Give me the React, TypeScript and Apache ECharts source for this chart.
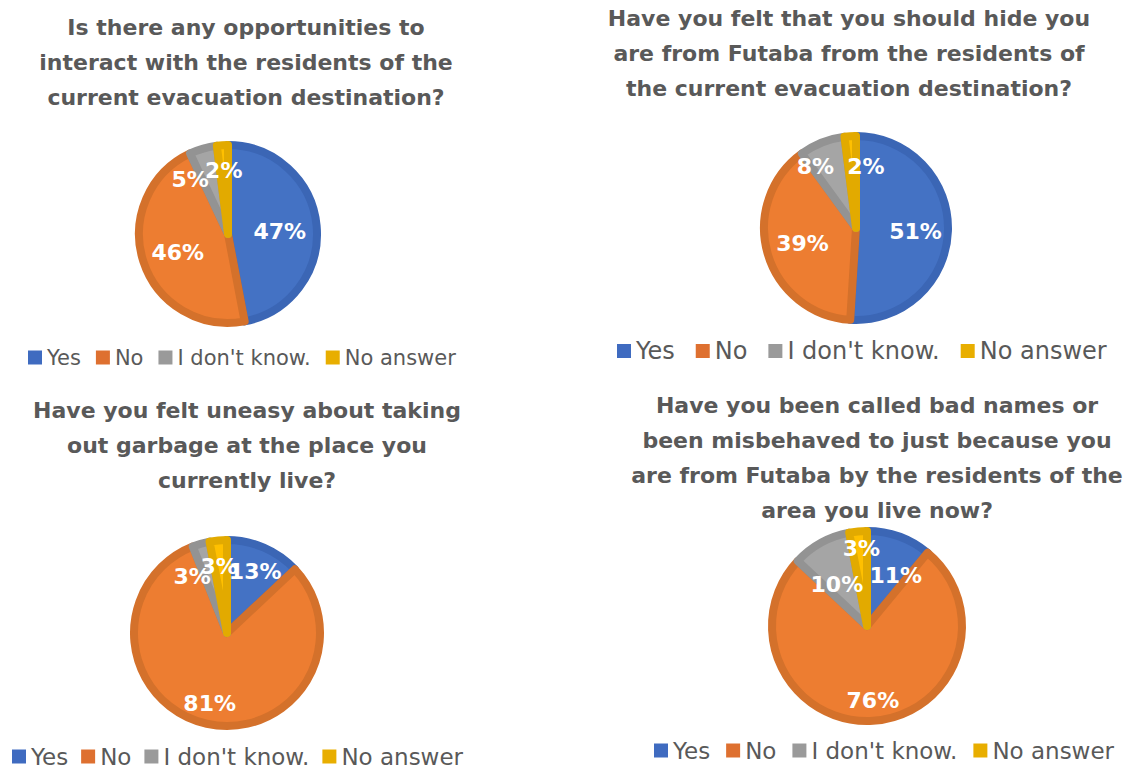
import React, { useEffect, useRef } from "react";
import * as echarts from "echarts";

const categories = ["Yes", "No", "I don't know.", "No answer"];
const q1Values = [47, 46, 5, 2];
const q2Values = [51, 39, 8, 2];
const q3Values = [13, 81, 3, 3];
const q4Values = [11, 76, 10, 3];
const titles = [
  "Is there any opportunities to\ninteract with the residents of the\ncurrent evacuation destination?",
  "Have you felt that you should hide you\nare from Futaba from the residents of\nthe current evacuation destination?",
  "Have you felt uneasy about taking\nout garbage at the place you\ncurrently live?",
  "Have you been called bad names or\nbeen misbehaved to just because you\nare from Futaba by the residents of the\narea you live now?",
];

const fillColors = ["#4472C4", "#ED7D31", "#A5A5A5", "#FFC000"];
const edgeColors = ["#3B66B5", "#D4712B", "#939393", "#E2AA00"];
const legendColors = ["#3F6BC0", "#DE7030", "#9A9A9A", "#E8AE00"];

const FONT = "DejaVu Sans";

const layout = [
  { tx: 246, ty: 9.5, cx: 228, cy: 234, r: 93, lx: 23, ly: 342, lf: 21, gap: 15 },
  { tx: 849, ty: 0.5, cx: 856, cy: 228, r: 96, lx: 612, ly: 334, lf: 24, gap: 21 },
  { tx: 247, ty: 392.5, cx: 227, cy: 633, r: 97, lx: 7, ly: 740, lf: 23, gap: 13 },
  { tx: 877, ty: 387.5, cx: 867, cy: 626, r: 99, lx: 649, ly: 734, lf: 23, gap: 16 },
];

// label distance from centre (fraction of radius) and nudges, per slice
const labelDist = [
  [0.57, 0.57, 0.73, 0.69],
  [0.61, 0.57, 0.78, 0.65],
  [0.7, 0.74, 0.7, 0.72],
  [0.59, 0.75, 0.56, 0.79],
];
const labelNudge = [
  [[-4, 3], [3, 1], [-18, 14], [0, 4]],
  [[-2, 2], [2, -1], [-12, 11], [14, 4]],
  [[0, 4], [-1, -2], [-15, 12], [-1, 6]],
  [[8, 7], [1, -3], [-2, 10], [2, 3]],
];

const allValues = [q1Values, q2Values, q3Values, q4Values];

export default function App() {
  const ref = useRef<HTMLDivElement>(null);
  useEffect(() => {
    document.body.style.margin = "0";
    const chart = echarts.init(ref.current!, undefined, { renderer: "svg" });
    const series: any[] = [];
    allValues.forEach((vals, i) => {
      const L = layout[i];
      series.push({
        type: "pie",
        name: "q" + (i + 1),
        center: [L.cx, L.cy],
        radius: [0, L.r - 4],
        startAngle: 90,
        clockwise: true,
        label: { show: false },
        labelLine: { show: false },
        emphasis: { disabled: true },
        data: vals.map((v, k) => ({
          name: categories[k],
          value: v,
          itemStyle: { color: fillColors[k], borderColor: edgeColors[k], borderWidth: 8 },
        })),
      });
      categories.forEach((_, j) => {
        series.push({
          type: "pie",
          name: "q" + (i + 1) + "label" + j,
          center: [L.cx, L.cy],
          radius: [0, L.r * 2 * labelDist[i][j]],
          startAngle: 90,
          clockwise: true,
          silent: true,
          avoidLabelOverlap: false,
          labelLine: { show: false },
          emphasis: { disabled: true },
          label: {
            show: false,
            position: "inside",
            formatter: "{c}%",
            color: "#FFFFFF",
            fontFamily: FONT,
            fontWeight: "bold",
            fontSize: 22,
          },
          labelLayout: { hideOverlap: false, dx: labelNudge[i][j][0], dy: labelNudge[i][j][1] },
          data: vals.map((v, k) => ({
            name: categories[k],
            value: v,
            label: { show: k === j },
            itemStyle: { color: "rgba(0,0,0,0)", borderWidth: 0 },
          })),
        });
      });
    });
    chart.setOption({
      animation: false,
      backgroundColor: "#FFFFFF",
      title: titles.map((t, i) => ({
        text: t,
        left: layout[i].tx,
        top: layout[i].ty,
        padding: 0,
        textAlign: "center",
        textStyle: {
          fontFamily: FONT,
          fontWeight: "bold",
          fontSize: 22,
          lineHeight: 35,
          color: "#595959",
        },
      })),
      legend: layout.map((L) => ({
        left: L.lx,
        top: L.ly,
        icon: "rect",
        itemWidth: 14,
        itemHeight: 14,
        itemGap: L.gap,
        selectedMode: false,
        textStyle: { fontFamily: FONT, fontSize: L.lf, color: "#595959" },
        data: categories.map((c, k) => ({
          name: c,
          itemStyle: { color: legendColors[k], borderWidth: 0 },
        })),
      })),
      series,
    });
    return () => chart.dispose();
  }, []);
  return <div ref={ref} style={{ width: 1131, height: 769 }} />;
}
